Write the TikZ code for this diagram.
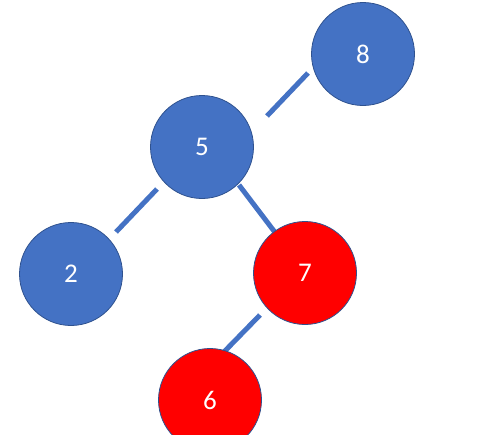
\documentclass[tikz,border=0pt]{standalone}
\usepackage{fontspec}
\setmainfont{Carlito}
\usepackage{xcolor}
\definecolor{nodeblue}{HTML}{4472C4}
\definecolor{rimblue}{HTML}{2F528F}
\definecolor{nodered}{HTML}{FF0000}
\begin{document}
\begin{tikzpicture}[
    x=1pt, y=-1pt,
    every node/.style={font=\fontsize{27}{27}\selectfont},
    bnode/.style={circle, draw=rimblue, line width=0.8pt, fill=nodeblue,
                  text=white, minimum size=103pt, inner sep=0pt},
    rnode/.style={bnode, fill=nodered},
    edge/.style={line width=5pt, nodeblue},
]
\useasboundingbox (0,0) rectangle (481,434);
% end points of the stubs
\coordinate (e85a) at (308,73);
\coordinate (e85b) at (267,116);
\coordinate (e52a) at (157,189);
\coordinate (e52b) at (116,232);
\coordinate (e57a) at (239,185);
\coordinate (e57b) at (277,235);
\coordinate (e76a) at (260,315);
\coordinate (e76b) at (219,357);
\draw[edge] (e85a) -- (e85b);
\draw[edge] (e52a) -- (e52b);
\draw[edge] (e57a) -- (e57b);
\draw[edge] (e76a) -- (e76b);
% the tree
\node[bnode] (n8) at (363,54)  {8};
\node[bnode] (n5) at (202,147) {5};
\node[bnode] (n2) at (71,274)  {2};
\node[rnode] (n7) at (305,273) {7};
\node[rnode] (n6) at (210,400) {6};
\end{tikzpicture}
\end{document}
